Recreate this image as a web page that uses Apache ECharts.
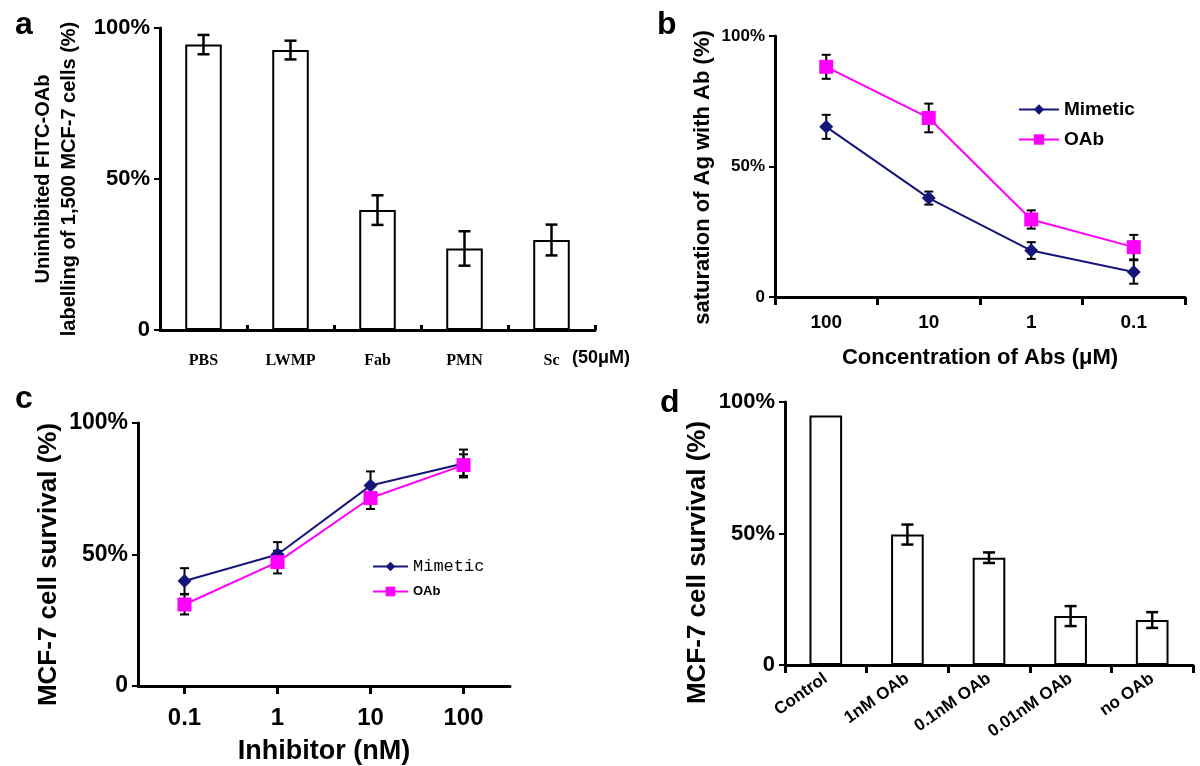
<!DOCTYPE html>
<html><head><meta charset="utf-8">
<script src="https://cdn.jsdelivr.net/npm/echarts@6/dist/echarts.min.js"></script>
<style>html,body{margin:0;padding:0;background:#fff}#c{width:1200px;height:766px}</style>
</head><body><div id="c"></div>
<script>
// Panel a
const catsA = ['PBS','LWMP','Fab','PMN','Sc'];
const valsA = [94.5, 92.7, 39.7, 27.0, 29.8];
const errA  = [3.2, 3.1, 4.9, 5.7, 5.1];
// Panel b
const catsB = ['100','10','1','0.1'];
const mimB = [65.2, 37.9, 17.8, 9.6];
const mimBerr = [4.6, 2.5, 3.2, 4.5];
const oabB = [88.2, 68.6, 29.7, 19.1];
const oabBerr = [4.6, 5.5, 3.5, 4.7];
// Panel c
const catsC = ['0.1','1','10','100'];
const mimC = [39.9, 50.0, 76.2, 84.6];
const mimCerr = [4.9, 4.7, 5.4, 5.3];
const oabC = [31.0, 47.1, 71.5, 84.0];
const oabCerr = [3.8, 4.3, 4.2, 4.1];
// Panel d
const catsD = ['Control','1nM OAb','0.1nM OAb','0.01nM OAb','no OAb'];
const valsD = [94.9, 49.6, 40.8, 18.6, 17.1];
const errD  = [0, 3.8, 2.0, 3.8, 3.0];

const SANS = '"Liberation Sans", Arial, sans-serif';
const SERIF = '"Liberation Serif", "Times New Roman", serif';
const NAVY = '#16167a';
const MAG = '#ff00ff';

function pctFmt(v){ return v === 0 ? '0' : v + '%'; }

function errSeries(gi, vals, errs, capW, color, lw){
  const data = vals.map((v,i)=>[i, v - errs[i], v + errs[i]]);
  return {
    type:'custom', xAxisIndex:gi, yAxisIndex:gi, z:3, silent:true,
    data: data.filter((d,i)=>errs[i]>0),
    renderItem:function(params, api){
      const x = api.value(0);
      const lo = api.coord([x, api.value(1)]);
      const hi = api.coord([x, api.value(2)]);
      const st = {stroke:color, lineWidth:lw};
      return {type:'group', children:[
        {type:'line', shape:{x1:lo[0],y1:lo[1],x2:hi[0],y2:hi[1]}, style:st},
        {type:'line', shape:{x1:lo[0]-capW/2,y1:lo[1],x2:lo[0]+capW/2,y2:lo[1]}, style:st},
        {type:'line', shape:{x1:hi[0]-capW/2,y1:hi[1],x2:hi[0]+capW/2,y2:hi[1]}, style:st}
      ]};
    }
  };
}

function yAx(gi, fs, name, nameFs, gap, lh, shift){
  return {
    type:'value', gridIndex:gi, min:0, max:100, interval:50,
    axisLine:{show:true, lineStyle:{color:'#000', width:3}},
    axisTick:{show:true, length:6, lineStyle:{color:'#000', width:2}},
    splitLine:{show:false},
    axisLabel:{formatter:pctFmt, color:'#000', fontFamily:SANS, fontWeight:'bold', fontSize:fs, margin:10},
    name:name, nameLocation:'middle', nameRotate:90, nameGap:gap,
    nameTextStyle:{color:'#000', fontFamily:SANS, fontWeight:'bold', fontSize:nameFs,
      lineHeight:lh||nameFs*1.3, padding:[0, shift||0, 0, 0]}
  };
}

const chart = echarts.init(document.getElementById('c'), null, {renderer:'canvas'});
const option = {
  backgroundColor:'#fff',
  animation:false,
  title:[
    {text:'a', left:10, top:4, textStyle:{fontFamily:SANS, fontWeight:'bold', fontSize:32, color:'#000'}},
    {text:'b', left:652, top:4, textStyle:{fontFamily:SANS, fontWeight:'bold', fontSize:32, color:'#000'}},
    {text:'c', left:10, top:378, textStyle:{fontFamily:SANS, fontWeight:'bold', fontSize:32, color:'#000'}},
    {text:'d', left:655, top:382, textStyle:{fontFamily:SANS, fontWeight:'bold', fontSize:32, color:'#000'}}
  ],
  grid:[
    {left:160, top:28, width:435, height:302},
    {left:775, top:36, width:410, height:261},
    {left:138, top:423, width:372, height:264},
    {left:785, top:402, width:408, height:263}
  ],
  xAxis:[
    {type:'category', gridIndex:0, data:catsA, boundaryGap:true,
      axisLine:{lineStyle:{color:'#000', width:3}},
      axisTick:{show:true, inside:true, length:5, lineStyle:{color:'#000', width:3}},
      axisLabel:{color:'#000', fontFamily:SERIF, fontWeight:'bold', fontSize:16, margin:23}},
    {type:'category', gridIndex:1, data:catsB, boundaryGap:true,
      axisLine:{lineStyle:{color:'#000', width:3}},
      axisTick:{show:true, length:8, lineStyle:{color:'#000', width:3}},
      axisLabel:{color:'#000', fontFamily:SANS, fontWeight:'bold', fontSize:19, margin:16},
      name:'Concentration of Abs (μM)', nameLocation:'middle', nameGap:50,
      nameTextStyle:{color:'#000', fontFamily:SANS, fontWeight:'bold', fontSize:22}},
    {type:'category', gridIndex:2, data:catsC, boundaryGap:true,
      axisLine:{lineStyle:{color:'#000', width:3}},
      axisTick:{show:true, alignWithLabel:true, length:8, lineStyle:{color:'#000', width:3}},
      axisLabel:{color:'#000', fontFamily:SANS, fontWeight:'bold', fontSize:24, margin:20},
      name:'Inhibitor (nM)', nameLocation:'middle', nameGap:52,
      nameTextStyle:{color:'#000', fontFamily:SANS, fontWeight:'bold', fontSize:27}},
    {type:'category', gridIndex:3, data:catsD, boundaryGap:true,
      axisLine:{lineStyle:{color:'#000', width:3}},
      axisTick:{show:true, length:8, lineStyle:{color:'#000', width:3}},
      axisLabel:{color:'#000', fontFamily:SANS, fontWeight:'bold', fontSize:17, margin:12, rotate:35, interval:0}}
  ],
  yAxis:[
    yAx(0, 22, 'Uninhibited FITC-OAb\nlabelling of 1,500 MCF-7 cells (%)', 20, 78, 26, 0),
    yAx(1, 17, 'saturation of Ag with Ab (%)', 22, 54, null, 22),
    yAx(2, 23, 'MCF-7 cell survival (%)', 26, 72, null, 20),
    yAx(3, 22, 'MCF-7 cell survival (%)', 26, 59, null, 58)
  ],
  legend:[
    {data:['Mimetic','OAb'], left:1013, top:95, orient:'vertical', itemWidth:40, itemHeight:13, itemGap:11,
      textStyle:{fontFamily:SANS, fontWeight:'bold', fontSize:19, color:'#000'}},
    {data:['Mimetic ','OAb '], left:367, top:553, orient:'vertical', itemWidth:35, itemHeight:12, itemGap:10,
      formatter:function(n){ return n.trim()==='Mimetic' ? '{m|Mimetic}' : '{o|OAb}'; },
      textStyle:{rich:{
        m:{fontFamily:'"Liberation Mono", "DejaVu Sans Mono", monospace', fontSize:17, color:'#000'},
        o:{fontFamily:SANS, fontWeight:'bold', fontSize:13, color:'#000'}}}}
  ],
  series:[
    {type:'bar', xAxisIndex:0, yAxisIndex:0, data:valsA, barWidth:'42%',
      itemStyle:{color:'#fff', borderColor:'#000', borderWidth:2}},
    errSeries(0, valsA, errA, 12, '#000', 2.5),

    errSeries(1, mimB, mimBerr, 9, '#000', 2),
    errSeries(1, oabB, oabBerr, 9, '#000', 2),
    {type:'line', name:'Mimetic', xAxisIndex:1, yAxisIndex:1, data:mimB, z:5,
      symbol:'diamond', symbolSize:14, lineStyle:{color:NAVY, width:2}, itemStyle:{color:NAVY}},
    {type:'line', name:'OAb', xAxisIndex:1, yAxisIndex:1, data:oabB, z:5,
      symbol:'rect', symbolSize:14, lineStyle:{color:MAG, width:2}, itemStyle:{color:MAG}},

    errSeries(2, mimC, mimCerr, 9, '#000', 2),
    errSeries(2, oabC, oabCerr, 9, '#000', 2),
    {type:'line', name:'Mimetic ', xAxisIndex:2, yAxisIndex:2, data:mimC, z:5,
      symbol:'diamond', symbolSize:14, lineStyle:{color:NAVY, width:2}, itemStyle:{color:NAVY}},
    {type:'line', name:'OAb ', xAxisIndex:2, yAxisIndex:2, data:oabC, z:5,
      symbol:'rect', symbolSize:14, lineStyle:{color:MAG, width:2}, itemStyle:{color:MAG}},

    {type:'bar', xAxisIndex:3, yAxisIndex:3, data:valsD, barWidth:'40%',
      itemStyle:{color:'#fff', borderColor:'#000', borderWidth:2}},
    errSeries(3, valsD, errD, 12, '#000', 2.5)
  ],
  graphic:[
    {type:'text', left:572, top:349, style:{text:'(50μM)', fontFamily:SANS, fontWeight:'bold', fontSize:18, fill:'#000'}}
  ]
};
chart.setOption(option);
</script></body></html>
